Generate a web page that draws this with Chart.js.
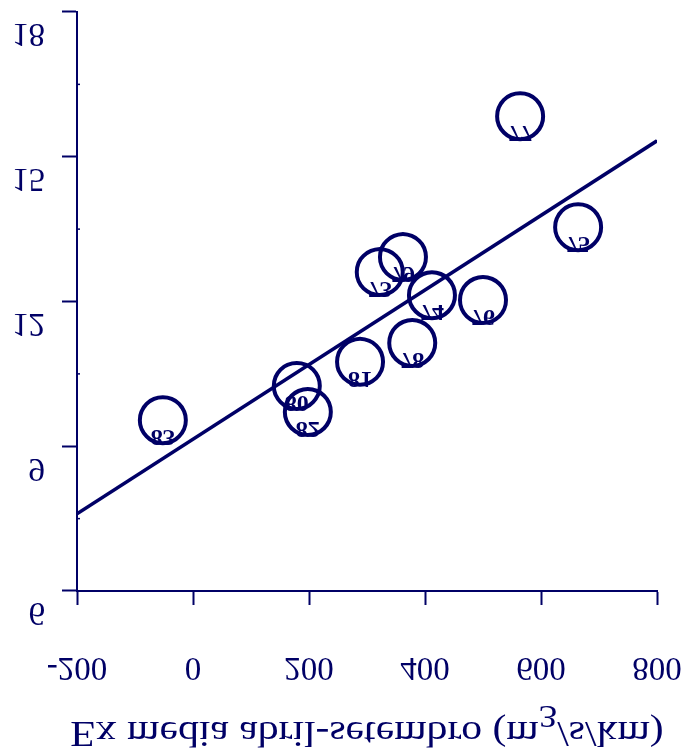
<!DOCTYPE html>
<html><head><meta charset="utf-8">
<style>
html,body{margin:0;padding:0;background:#fff;overflow:hidden;}
#wrap{width:686px;height:749px;transform:scaleY(-1);transform-origin:50% 50%;}
canvas{display:block;}
</style>
<script src="https://cdn.jsdelivr.net/npm/chart.js@4/dist/chart.umd.min.js"></script>
</head><body>
<div id="wrap"><canvas id="c" width="686" height="749"></canvas></div>
<script>
// ---- data ----
const yearLabels = ['77', '75', '79', '73', '74', '76', '78', '81', '80', '82', '83'];
const exValues   = [564, 664, 362, 322, 412, 500, 378, 288, 179, 198, -52];
const yValues    = [15.84, 13.54, 12.92, 12.61, 12.13, 12.03, 11.14, 10.75, 10.25, 9.71, 9.54];
const trendX     = [-200, 800];
const trendY     = [7.6, 15.33];
const xTicks     = [-200, 0, 200, 400, 600, 800];
const yTicks     = [6, 9, 12, 15, 18];
const xTitleMain = 'Ex media abril-setembro (m';
const xTitleExp  = '3';
const xTitleEnd  = '/s/km)';

const NAVY = '#000066';
const SERIF = '"Liberation Serif", "DejaVu Serif", serif';

const points = exValues.map((x, i) => ({x: x, y: yValues[i]}));
const trend = trendX.map((x, i) => ({x: x, y: trendY[i]}));

const overlay = {
  id: 'overlay',
  afterDraw(chart) {
    const ctx = chart.ctx;
    const xs = chart.scales.x, ys = chart.scales.y;
    ctx.save();
    // inner minor ticks on the y axis
    ctx.strokeStyle = NAVY; ctx.lineWidth = 1.5;
    for (let i = 0; i < yTicks.length - 1; i++) {
      const py = ys.getPixelForValue((yTicks[i] + yTicks[i + 1]) / 2);
      ctx.beginPath(); ctx.moveTo(xs.left, py); ctx.lineTo(xs.left + 3, py); ctx.stroke();
    }
    // point labels
    ctx.fillStyle = NAVY;
    ctx.font = 'bold 24px ' + SERIF;
    ctx.textAlign = 'center'; ctx.textBaseline = 'middle';
    const meta = chart.getDatasetMeta(0);
    meta.data.forEach((el, i) => {
      ctx.fillText(yearLabels[i], el.x, el.y - 16);
    });
    // axis title (horizontally stretched like the reference)
    const sx = 1.19;
    ctx.textBaseline = 'alphabetic'; ctx.textAlign = 'left';
    ctx.font = '35px ' + SERIF;
    const w1 = ctx.measureText(xTitleMain).width;
    const w3 = ctx.measureText(xTitleEnd).width;
    ctx.font = '31px ' + SERIF;
    const w2 = ctx.measureText(xTitleExp).width;
    const total = (w1 + w2 + w3) * sx;
    const cx = (xs.left + xs.right) / 2;
    const x0 = cx - total / 2;
    const base = 27;
    ctx.translate(x0, 0);
    ctx.scale(sx, 1);
    ctx.font = '35px ' + SERIF;
    ctx.fillText(xTitleMain, 0, base);
    ctx.font = '31px ' + SERIF;
    ctx.fillText(xTitleExp, w1, base + 16);
    ctx.font = '35px ' + SERIF;
    ctx.fillText(xTitleEnd, w1 + w2, base);
    ctx.restore();
  }
};

new Chart(document.getElementById('c'), {
  type: 'scatter',
  data: {
    datasets: [
      {
        data: points,
        pointStyle: 'circle',
        pointRadius: 23,
        pointHoverRadius: 23,
        pointBorderWidth: 4,
        pointBorderColor: NAVY,
        pointBackgroundColor: 'rgba(0,0,0,0)',
        showLine: false
      },
      {
        type: 'line',
        data: trend,
        borderColor: NAVY,
        borderWidth: 3.5,
        pointRadius: 0,
        fill: false,
        tension: 0
      }
    ]
  },
  options: {
    responsive: false,
    animation: false,
    events: [],
    layout: { autoPadding: false, padding: { left: 0, right: 29, top: 0, bottom: 12 } },
    plugins: { legend: { display: false }, tooltip: { enabled: false } },
    scales: {
      x: {
        type: 'linear',
        position: 'top',
        min: -200, max: 800,
        afterBuildTicks(s) { s.ticks = xTicks.map(v => ({value: v})); },
        afterFit(s) { s.height = 158; s.paddingLeft = 0; s.paddingRight = 0; },
        ticks: { color: NAVY, font: { family: SERIF, size: 33 }, padding: 42, maxRotation: 0, autoSkip: false },
        grid: { display: true, drawOnChartArea: false, drawTicks: true, tickLength: 14, tickColor: NAVY, tickWidth: 2, color: NAVY },
        border: { display: true, color: NAVY, width: 2 }
      },
      y: {
        type: 'linear',
        position: 'left',
        reverse: true,
        min: 6, max: 18,
        afterBuildTicks(s) { s.ticks = yTicks.map(v => ({value: v})); },
        afterFit(s) { s.width = 77; s.paddingTop = 0; s.paddingBottom = 0; },
        ticks: { color: NAVY, font: { family: SERIF, size: 33 }, padding: 17, labelOffset: -21, autoSkip: false },
        grid: { display: true, drawOnChartArea: false, drawTicks: true, tickLength: 15, tickColor: NAVY, tickWidth: 2, color: NAVY },
        border: { display: true, color: NAVY, width: 2 }
      }
    }
  },
  plugins: [overlay]
});
</script>
</body></html>
